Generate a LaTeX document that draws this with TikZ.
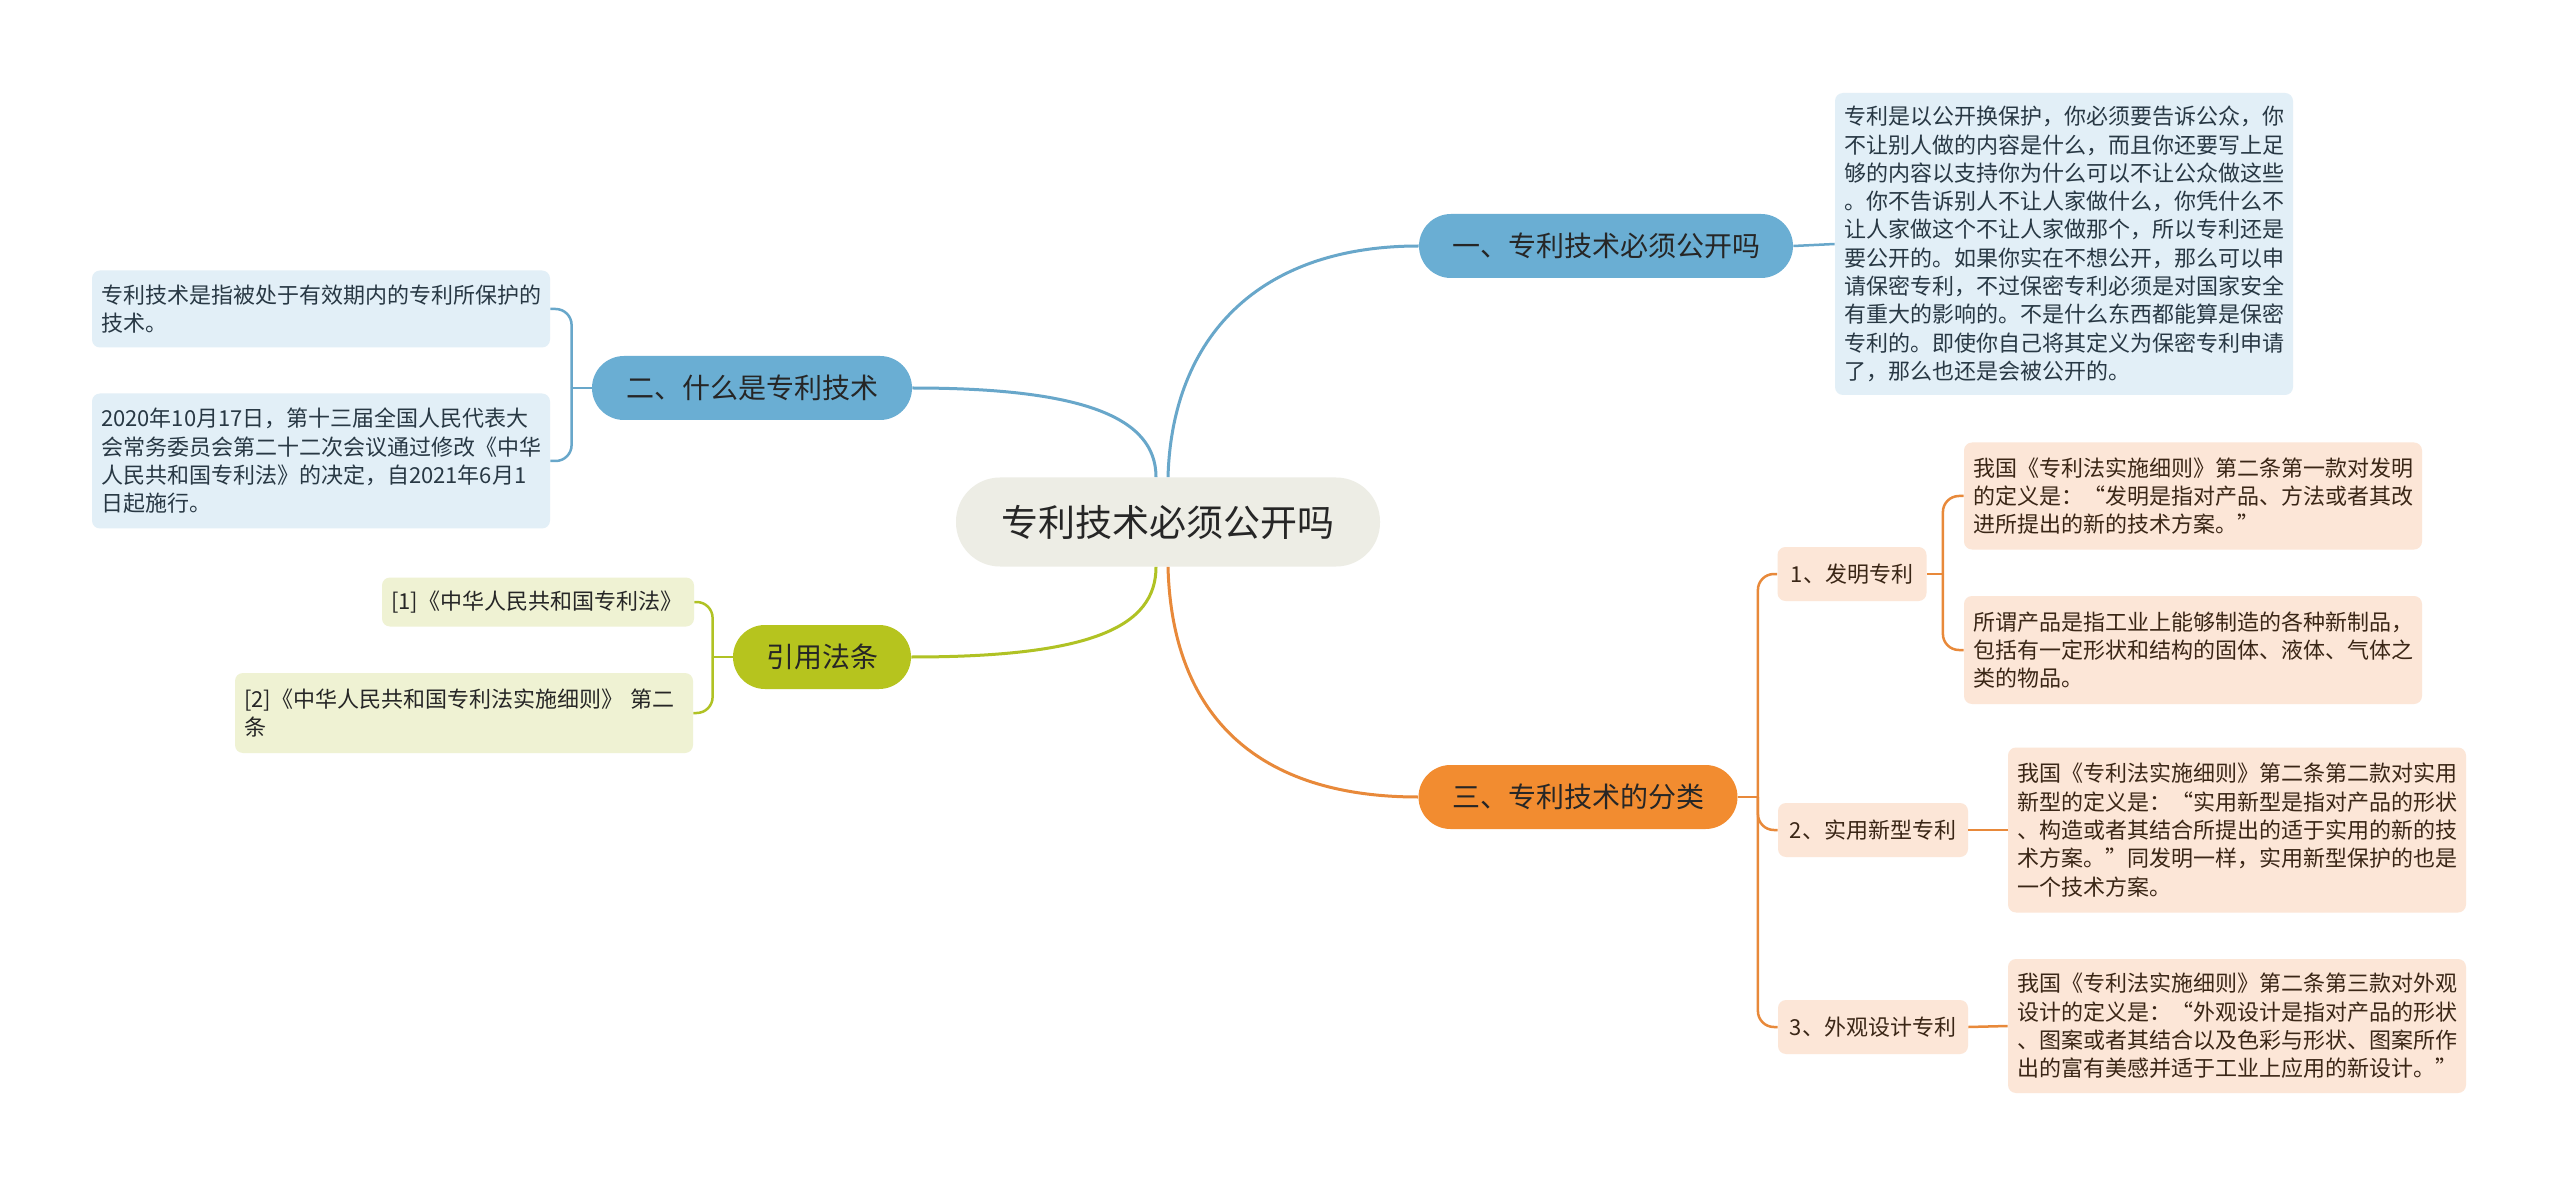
\documentclass[tikz,border=0pt]{standalone}
\usepackage{fontspec}
\setmainfont{Noto Sans CJK SC}
\usepackage{tikz}
\usetikzlibrary{positioning}
\definecolor{mmroot}{HTML}{EDEDE5}
\definecolor{mmtext}{HTML}{262626}
\definecolor{bluebr}{HTML}{6AAED3}
\definecolor{blueleaf}{HTML}{E2EFF7}
\definecolor{blueln}{HTML}{68A7CA}
\definecolor{bluetext}{HTML}{283844}
\definecolor{greenbr}{HTML}{B6C41E}
\definecolor{greenleaf}{HTML}{EFF2D3}
\definecolor{greenln}{HTML}{B0C224}
\definecolor{orbr}{HTML}{F28C30}
\definecolor{orleaf}{HTML}{FCE6D7}
\definecolor{orln}{HTML}{E8893A}
\definecolor{ortext}{HTML}{3A2616}

\begin{document}
\begin{tikzpicture}[x=0.5pt,y=-0.5pt,
  topic/.style={fill=mmroot,rounded corners=22pt,minimum width=212pt,minimum height=44.5pt,
                text=mmtext,font=\fontsize{18.5}{22}\selectfont},
  branch/.style={rounded corners=16pt,minimum height=32pt,inner xsep=0pt,
                 text=mmtext,font=\fontsize{14}{17}\selectfont},
  leaf/.style={rounded corners=4pt,align=left,text width=220pt,inner xsep=4.5pt,
               font=\fontsize{11}{14.15}\selectfont},
  sub/.style={fill=orleaf,rounded corners=4pt,minimum height=27pt,inner xsep=0pt,
              text=ortext,font=\fontsize{11}{13}\selectfont},
  bleaf/.style={leaf,fill=blueleaf,text=bluetext},
  gleaf/.style={leaf,fill=greenleaf,text=mmtext},
  oleaf/.style={leaf,fill=orleaf,text=ortext},
  bl/.style={draw=blueln,line width=1.5pt},
  gl/.style={draw=greenln,line width=1.5pt},
  ol/.style={draw=orln,line width=1.5pt},
  brace/.style={rounded corners=8pt,line width=1.25pt},
]
\useasboundingbox (0,0) rectangle (2560,1187);
\fill[white] (0,0) rectangle (2560,1187);

% centre
\node[topic] (root) at (1168,522) {专利技术必须公开吗};

% right, top
\node[branch,fill=bluebr,minimum width=187pt] (b1) at (1606,246) {一、专利技术必须公开吗};
\node[bleaf,minimum height=151pt] (l1) at (2064,244)
  {专利是以公开换保护，你必须要告诉公众，你\\不让别人做的内容是什么，而且你还要写上足\\够的内容以支持你为什么可以不让公众做这些\\。你不告诉别人不让人家做什么，你凭什么不\\让人家做这个不让人家做那个，所以专利还是\\要公开的。如果你实在不想公开，那么可以申\\请保密专利，不过保密专利必须是对国家安全\\有重大的影响的。不是什么东西都能算是保密\\专利的。即使你自己将其定义为保密专利申请\\了，那么也还是会被公开的。};

% left
\node[branch,fill=bluebr,minimum width=160pt] (b2) at (752,388) {二、什么是专利技术};
\node[bleaf,minimum height=38.5pt] (l2a) at (321,309)
  {专利技术是指被处于有效期内的专利所保护的\\技术。};
\node[bleaf,minimum height=67.5pt] (l2b) at (321,461)
  {2020年10月17日，第十三届全国人民代表大\\会常务委员会第二十二次会议通过修改《中华\\人民共和国专利法》的决定，自2021年6月1\\日起施行。};

\node[branch,fill=greenbr,minimum width=89pt] (b3) at (822,657) {引用法条};
\node[gleaf,text width=147pt,minimum height=24.5pt] (c1) at (538,602)
  {[1]《中华人民共和国专利法》};
\node[gleaf,minimum height=40pt] (c2) at (464,713)
  {[2]《中华人民共和国专利法实施细则》 第二\\条};

% right, bottom
\node[branch,fill=orbr,minimum width=159.5pt] (b4) at (1578,797) {三、专利技术的分类};
\node[sub,minimum width=74.5pt] (s1) at (1852,574) {1、发明专利};
\node[sub,minimum width=95pt] (s2) at (1873,830) {2、实用新型专利};
\node[sub,minimum width=95pt] (s3) at (1873,1027) {3、外观设计专利};

\node[oleaf,minimum height=53.5pt] (l1a) at (2193,496)
  {我国《专利法实施细则》第二条第一款对发明\\的定义是：“发明是指对产品、方法或者其改\\进所提出的新的技术方案。”};
\node[oleaf,minimum height=54pt] (l1b) at (2193,650)
  {所谓产品是指工业上能够制造的各种新制品，\\包括有一定形状和结构的固体、液体、气体之\\类的物品。};
\node[oleaf,minimum height=82.5pt] (l2) at (2237,830)
  {我国《专利法实施细则》第二条第二款对实用\\新型的定义是：“实用新型是指对产品的形状\\、构造或者其结合所提出的适于实用的新的技\\术方案。”同发明一样，实用新型保护的也是\\一个技术方案。};
\node[oleaf,minimum height=67pt] (l3) at (2237,1026)
  {我国《专利法实施细则》第二条第三款对外观\\设计的定义是：“外观设计是指对产品的形状\\、图案或者其结合以及色彩与形状、图案所作\\出的富有美感并适于工业上应用的新设计。”};

% main curves
\draw[bl] (root.north) .. controls +(4,-140) and +(-160,0) .. (b1.west);
\draw[bl] ([xshift=-6pt]root.north) .. controls +(0,-60) and +(170,0) .. (b2.east);
\draw[gl] ([xshift=-6pt]root.south) .. controls +(0,60) and +(180,0) .. (b3.east);
\draw[ol] (root.south) .. controls +(4,150) and +(-160,0) .. (b4.west);

% braces
\draw[bl,line width=1.25pt] (b1.east) -- (l1.west);

\draw[bl,line width=1.25pt] (b2.west) -- ++(-20,0) coordinate (j2);
\draw[bl,brace] (j2) |- (l2a.east);
\draw[bl,brace] (j2) |- (l2b.east);

\draw[gl,line width=1.25pt] (b3.west) -- ++(-20,0) coordinate (j3);
\draw[gl,brace] (j3) |- (c1.east);
\draw[gl,brace] (j3) |- (c2.east);

\draw[ol,line width=1.25pt] (b4.east) -- ++(20,0) coordinate (j4);
\draw[ol,brace] (j4) |- (s1.west);
\draw[ol,brace] (j4) |- (s2.west);
\draw[ol,brace] (j4) |- (s3.west);

\draw[ol,line width=1.25pt] (s1.east) -- ++(16,0) coordinate (j5);
\draw[ol,brace] (j5) |- (l1a.west);
\draw[ol,brace] (j5) |- (l1b.west);
\draw[ol,line width=1.25pt] (s2.east) -- (l2.west);
\draw[ol,line width=1.25pt] (s3.east) -- (l3.west);

\end{tikzpicture}
\end{document}
